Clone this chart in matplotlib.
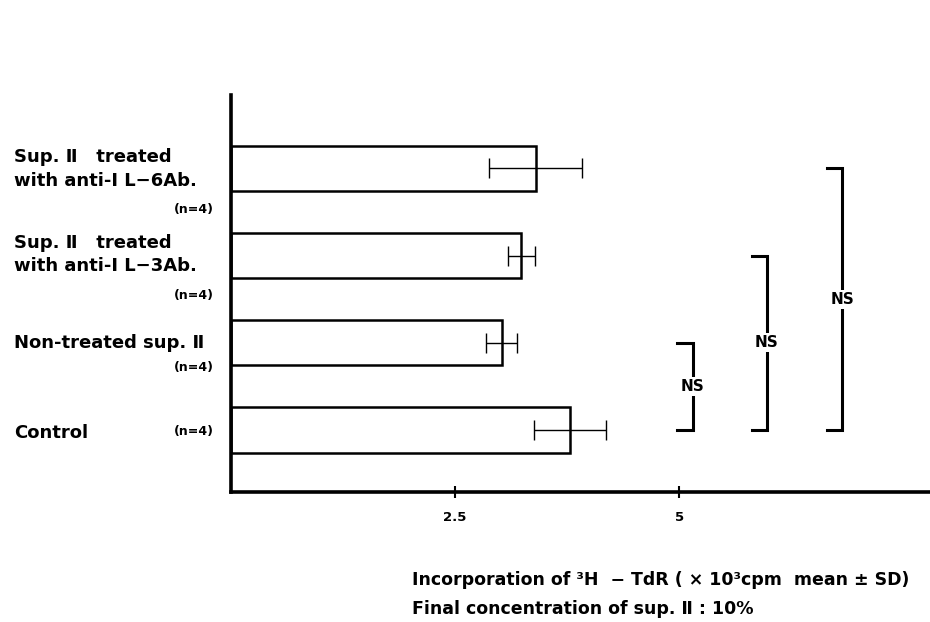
import matplotlib
matplotlib.use("Agg")
import matplotlib.pyplot as plt

# ---- data ----
categories = ["Control", "Non-treated sup. Ⅱ",
              "Sup. Ⅱ treated with anti-IL-3Ab.",
              "Sup. Ⅱ treated with anti-IL-6Ab."]
means = [3.78, 3.02, 3.24, 3.40]
sds = [0.40, 0.17, 0.15, 0.52]
xticks = [2.5, 5]
xticklabels = ["2.5", "5"]
comparisons = [(0, 1, "NS"), (0, 2, "NS"), (0, 3, "NS")]

W, H = 930, 622
fig = plt.figure(figsize=(W / 100, H / 100), dpi=100)
plt.rcParams['font.family'] = ['DejaVu Sans']

def fx(px):
    return px / W

def fy(py):
    return 1 - py / H

ax = fig.add_axes([fx(231), fy(492), fx(930 - 231), (492 - 95) / H])
ypos = list(range(len(categories)))
ax.barh(ypos, means, height=0.52, color="white", edgecolor="black", linewidth=1.8, zorder=2)
ax.errorbar(means, ypos, xerr=sds, fmt="none", ecolor="black", elinewidth=1.0,
            capsize=7, capthick=1.0, zorder=3)

ax.set_xlim(0, 7.80)
ax.set_ylim(-0.71, 3.84)
for s in ["top", "right"]:
    ax.spines[s].set_visible(False)
ax.spines["left"].set_linewidth(2.6)
ax.spines["bottom"].set_linewidth(2.6)
ax.set_yticks([])
ax.set_xticks(xticks)
ax.set_xticklabels(xticklabels, fontsize=9.5, fontweight="bold")
ax.tick_params(axis="x", direction="inout", length=9, width=1.5, pad=9)

# significance brackets
br_x = [5.15, 5.98, 6.82]
arm = 0.17
for (a, b, lab), bx in zip(comparisons, br_x):
    ax.plot([bx - arm, bx, bx, bx - arm], [a, a, b, b], color="black", lw=2.2,
            solid_joinstyle="miter", clip_on=False, zorder=4)
    ax.text(bx, (a + b) / 2, lab, ha="center", va="center", fontsize=11,
            fontweight="bold", zorder=5,
            bbox=dict(facecolor="white", edgecolor="none", pad=1.5))

# left category labels
lab_fs = 13
kw = dict(fontsize=lab_fs, fontweight="bold", va="center", ha="left")
nkw = dict(fontsize=9, fontweight="bold", va="center", ha="right")
fig.text(fx(14), fy(157), "Sup. Ⅱ   treated", **kw)
fig.text(fx(14), fy(181), "with anti-I L−6Ab.", **kw)
fig.text(fx(214), fy(209), "(n=4)", **nkw)
fig.text(fx(14), fy(243), "Sup. Ⅱ   treated", **kw)
fig.text(fx(14), fy(266), "with anti-I L−3Ab.", **kw)
fig.text(fx(214), fy(295), "(n=4)", **nkw)
fig.text(fx(14), fy(343), "Non-treated sup. Ⅱ", **kw)
fig.text(fx(214), fy(368), "(n=4)", **nkw)
fig.text(fx(14), fy(433), "Control", **kw)
fig.text(fx(214), fy(432), "(n=4)", **nkw)

# bottom notes
fig.text(fx(412), fy(580), "Incorporation of ³H  − TdR ( × 10³cpm  mean ± SD)",
         fontsize=12.5, fontweight="bold", va="center", ha="left")
fig.text(fx(412), fy(609), "Final concentration of sup. Ⅱ : 10%",
         fontsize=12.5, fontweight="bold", va="center", ha="left")

fig.savefig("out.png", dpi=100)
